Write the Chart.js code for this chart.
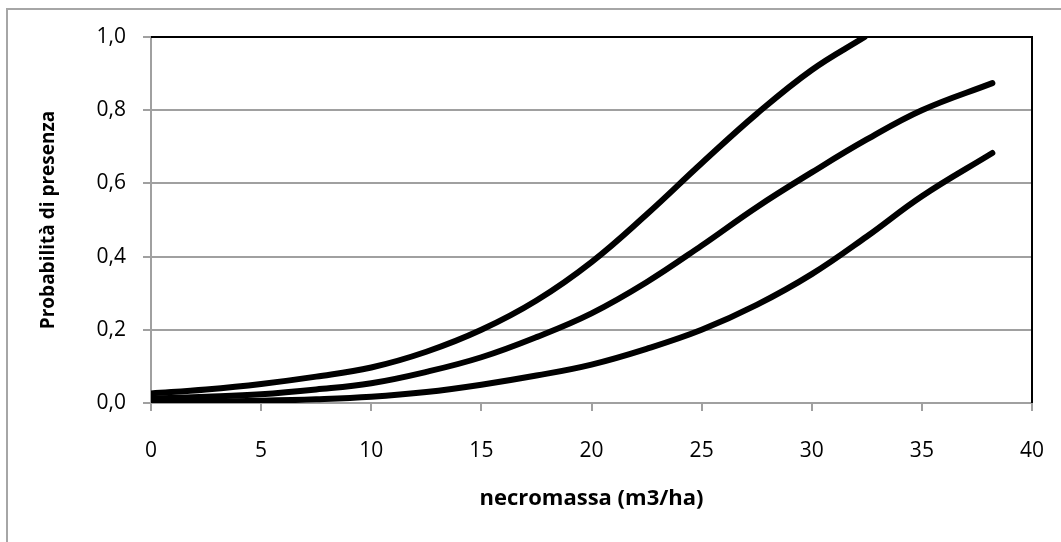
<!DOCTYPE html>
<html lang="it">
<head>
    <meta charset="UTF-8">
    <title>Probabilità di presenza</title>
    <script src="https://cdn.jsdelivr.net/npm/chart.js"></script>
    <style>
        html, body {
            margin: 0;
            padding: 0;
            background: #fff;
            overflow: hidden;
        }
        .frame {
            position: absolute;
            left: 6px;
            top: 8px;
            width: 1100px;
            height: 600px;
            border-left: 2px solid #a6a6a6;
            border-top: 2px solid #a6a6a6;
        }
        .chart-box {
            position: absolute;
            left: 0;
            top: 0;
            width: 1061px;
            height: 542px;
        }
    </style>
</head>
<body>
    <div class="frame"></div>
    <div class="chart-box">
        <canvas id="probChart" width="1061" height="542"></canvas>
    </div>

    <script>
        // x values (necromassa, m3/ha)
        const xUpper = [0, 2.5, 5, 7.5, 10, 12.5, 15, 17.5, 20, 22.5, 25, 27.5, 30, 32.4];
        const yUpper = [0.026, 0.037, 0.052, 0.072, 0.097, 0.14, 0.2, 0.28, 0.385, 0.515, 0.655, 0.79, 0.91, 1.0];

        const xMiddle = [0, 2.5, 5, 7.5, 10, 12.5, 15, 17.5, 20, 22.5, 25, 27.5, 30, 32.5, 35, 38.2];
        const yMiddle = [0.012, 0.017, 0.024, 0.037, 0.054, 0.085, 0.125, 0.18, 0.245, 0.33, 0.43, 0.535, 0.63, 0.72, 0.8, 0.874];

        const xLower = [0, 2.5, 5, 7.5, 10, 12.5, 15, 17.5, 20, 22.5, 25, 27.5, 30, 32.5, 35, 38.2];
        const yLower = [0.004, 0.004, 0.006, 0.01, 0.017, 0.03, 0.05, 0.075, 0.105, 0.148, 0.2, 0.268, 0.352, 0.455, 0.565, 0.683];

        const xTitle = "necromassa (m3/ha)";
        const yTitle = "Probabilità di presenza";

        function toPoints(xs, ys) {
            return xs.map((x, i) => ({ x: x, y: ys[i] }));
        }

        function curve(xs, ys) {
            return {
                data: toPoints(xs, ys),
                borderColor: "#000",
                borderWidth: 6,
                borderCapStyle: "round",
                borderJoinStyle: "round",
                pointRadius: 0,
                fill: false,
                tension: 0.4
            };
        }

        // black frame on top and right of the plot area, like Excel
        const plotFrame = {
            id: "plotFrame",
            afterDatasetsDraw(chart) {
                const { ctx, chartArea: a } = chart;
                ctx.save();
                ctx.strokeStyle = "#000";
                ctx.lineWidth = 2;
                ctx.beginPath();
                ctx.moveTo(a.left, a.top);
                ctx.lineTo(a.right, a.top);
                ctx.lineTo(a.right, a.bottom);
                ctx.stroke();
                ctx.restore();
            }
        };

        const tickFont = { family: "'Open Sans', sans-serif", size: 21 };
        const xTitleFont = { family: "'Open Sans', sans-serif", size: 22, weight: "bold" };
        const yTitleFont = { family: "'Open Sans', sans-serif", size: 19, weight: "bold" };

        new Chart(document.getElementById("probChart"), {
            type: "line",
            data: {
                datasets: [
                    curve(xUpper, yUpper),
                    curve(xMiddle, yMiddle),
                    curve(xLower, yLower)
                ]
            },
            options: {
                responsive: false,
                animation: false,
                layout: { padding: { left: 0, top: 37, right: 29, bottom: 0 } },
                plugins: {
                    legend: { display: false },
                    tooltip: { enabled: false }
                },
                scales: {
                    x: {
                        type: "linear",
                        min: 0,
                        max: 40,
                        afterFit(scale) {
                            scale.height = 139;
                            scale.paddingLeft = 0;
                            scale.paddingRight = 0;
                        },
                        ticks: {
                            stepSize: 5,
                            color: "#000",
                            font: tickFont,
                            padding: 27,
                            maxRotation: 0
                        },
                        grid: {
                            drawOnChartArea: false,
                            drawTicks: true,
                            tickLength: 8,
                            color: "#a0a0a0",
                            lineWidth: 2
                        },
                        border: { color: "#a0a0a0", width: 2 },
                        title: {
                            display: true,
                            text: xTitle,
                            color: "#000",
                            font: xTitleFont,
                            padding: { top: 0, bottom: 30 }
                        }
                    },
                    y: {
                        min: 0,
                        max: 1,
                        afterFit(scale) {
                            scale.width = 151;
                            scale.paddingTop = 0;
                            scale.paddingBottom = 0;
                        },
                        ticks: {
                            stepSize: 0.2,
                            color: "#000",
                            font: tickFont,
                            padding: 17,
                            callback: (v) => v.toFixed(1).replace(".", ",")
                        },
                        grid: {
                            color: "#a0a0a0",
                            lineWidth: 2,
                            tickLength: 8
                        },
                        border: { color: "#a0a0a0", width: 2 },
                        title: {
                            display: true,
                            text: yTitle,
                            color: "#000",
                            font: yTitleFont,
                            padding: { top: 37, bottom: 0 }
                        }
                    }
                }
            },
            plugins: [plotFrame]
        });
    </script>
</body>
</html>
